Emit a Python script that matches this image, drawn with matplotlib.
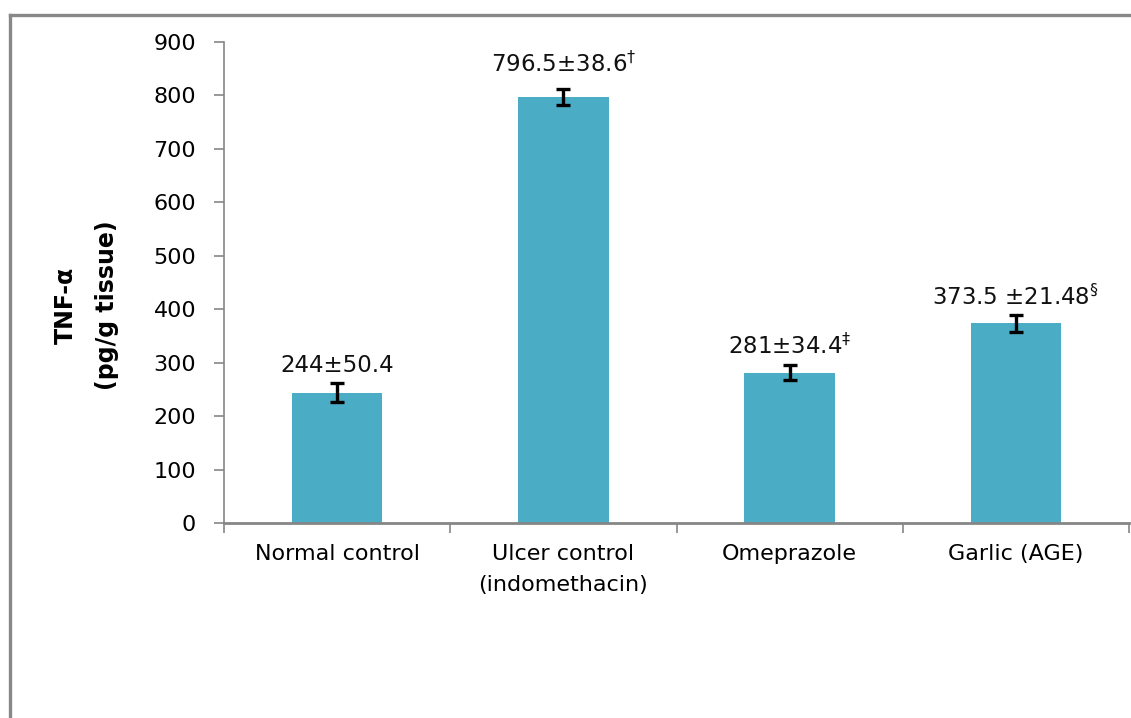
import matplotlib.pyplot as plt
from matplotlib.lines import Line2D
import numpy as np

categories = ['Normal control', 'Ulcer control\n(indomethacin)', 'Omeprazole', 'Garlic (AGE)']
means = [244, 796.5, 281, 373.5]
errors = [18.5, 15, 14, 16.5]
labels = ['244\u00b150.4', '796.5\u00b138.6$^{\\dagger}$', '281\u00b134.4$^{\\ddagger}$', '373.5 \u00b121.48$^{\\S}$']
yticks = [0, 100, 200, 300, 400, 500, 600, 700, 800, 900]

W, H = 1131, 718
fig = plt.figure(figsize=(W / 100, H / 100), dpi=100)
ax = fig.add_axes([224 / W, 1 - 523 / H, (1129 - 224) / W, (523 - 42) / H])

gray = '#868686'
x = np.arange(len(categories))
ax.bar(x, means, width=0.4, color='#4BACC6', zorder=2)
ax.errorbar(x, means, yerr=errors, fmt='none', ecolor='black', elinewidth=2.4,
            capsize=4.8, capthick=2.4, zorder=3)

# value labels above the error bars (extra gap for the tall bar)
pads = [32, 47, 35, 32]
for xi, m, e, lab, p in zip(x, means, errors, labels, pads):
    ax.text(xi, m + e + p, lab, ha='center', va='center', fontsize=16.5, color='#111111')

ax.set_xlim(-0.5, 3.5)
ax.set_ylim(0, 900)
ax.set_yticks(yticks)
ax.tick_params(axis='y', length=7, width=1.2, color=gray, labelsize=16, pad=13)

ax.set_xticks(np.arange(-0.5, 4, 1))
ax.set_xticklabels([])
ax.tick_params(axis='x', which='major', length=7.5, width=1.2, color=gray)
ax.set_xticks(x, minor=True)
ax.set_xticklabels(categories, minor=True, fontsize=16, linespacing=1.7)
ax.tick_params(axis='x', which='minor', length=0, pad=15)

for s in ['top', 'right']:
    ax.spines[s].set_visible(False)
ax.spines['left'].set_color(gray)
ax.spines['left'].set_linewidth(1.2)
ax.spines['bottom'].set_color(gray)
ax.spines['bottom'].set_linewidth(2)

fig.text(86 / W, 1 - 305 / H, 'TNF-\u03b1\n(pg/g tissue)', rotation=90, ha='center', va='center',
         fontsize=17, fontweight='bold', multialignment='center', linespacing=1.9)

# outer frame (top and left edges visible)
fig.add_artist(Line2D([10 / W, 1], [1 - 15 / H, 1 - 15 / H], color='#888888', linewidth=2.4))
fig.add_artist(Line2D([10 / W, 10 / W], [0, 1 - 15 / H], color='#888888', linewidth=2.4))

fig.savefig('out.png', dpi=100)
